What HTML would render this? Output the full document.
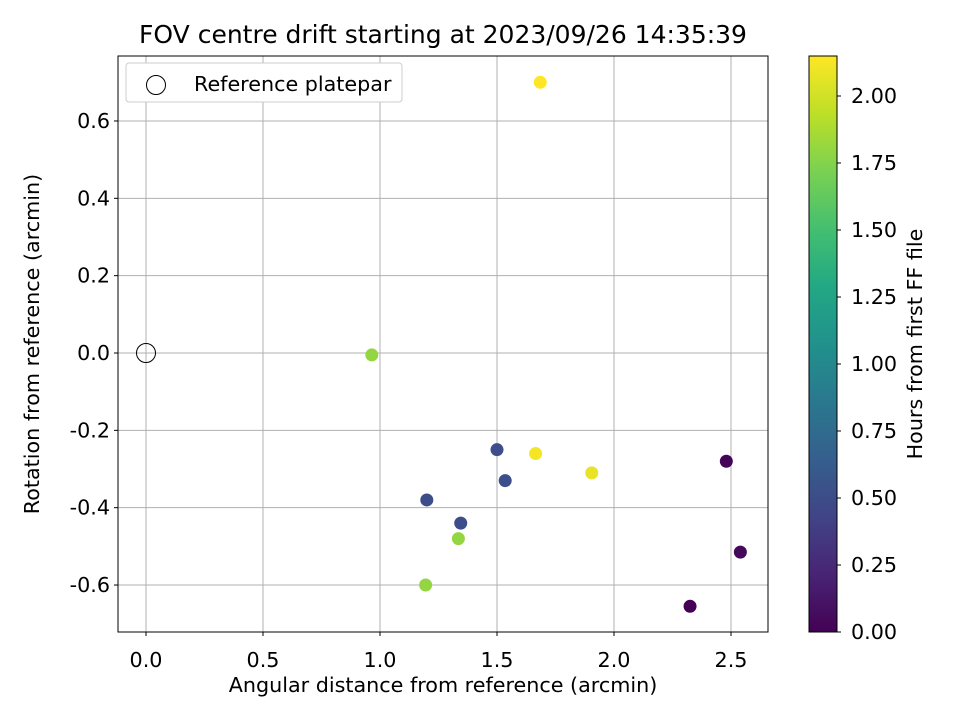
<!DOCTYPE html>
<html><head><meta charset="utf-8"><style>
body{margin:0;background:#fff;}
svg text{font-family:"DejaVu Sans","Liberation Sans",sans-serif;fill:#000;}
</style></head><body>
<svg id="chart" width="960" height="720" xmlns="http://www.w3.org/2000/svg">
<defs>
<linearGradient id="vir" x1="0" y1="1" x2="0" y2="0">
<stop offset="0" stop-color="#440154"/><stop offset="0.1" stop-color="#482475"/><stop offset="0.2" stop-color="#414487"/><stop offset="0.3" stop-color="#355f8d"/><stop offset="0.4" stop-color="#2a788e"/><stop offset="0.5" stop-color="#21918c"/><stop offset="0.6" stop-color="#22a884"/><stop offset="0.7" stop-color="#44bf70"/><stop offset="0.8" stop-color="#7ad151"/><stop offset="0.9" stop-color="#bddf26"/><stop offset="1" stop-color="#fde725"/>
</linearGradient>
</defs>
<g id="grid"></g>
<g id="pts"></g>
<rect x="118" y="56" width="650" height="576" fill="none" stroke="#000" stroke-width="1"/>
<g id="xt"></g>
<g id="yt"></g>
<text x="443" y="43" style="font-size:25px" text-anchor="middle">FOV centre drift starting at 2023/09/26 14:35:39</text>
<text x="443" y="692" style="font-size:20.7px" text-anchor="middle">Angular distance from reference (arcmin)</text>
<text transform="translate(39,344) rotate(-90)" style="font-size:20.7px" text-anchor="middle">Rotation from reference (arcmin)</text>
<g>
<rect x="126" y="63" width="276" height="39" rx="3" fill="#fff" stroke="#ccc"/>
<circle cx="156" cy="85" r="9.5" fill="none" stroke="#000"/>
<text x="194" y="91" style="font-size:20.7px">Reference platepar</text>
</g>
<rect x="809" y="56" width="28" height="576" fill="url(#vir)" stroke="#000"/>
<g id="ct"></g>
<text transform="translate(922,344) rotate(-90)" style="font-size:20.7px" text-anchor="middle">Hours from first FF file</text>
</svg>
<script>
const xs=[0.965,1.685,1.50,1.535,1.20,1.345,1.335,1.195,1.665,1.905,2.48,2.54,2.325];
const ys=[-0.005,0.70,-0.25,-0.33,-0.38,-0.44,-0.48,-0.60,-0.26,-0.31,-0.28,-0.515,-0.655];
const hours=[1.80,2.15,0.52,0.52,0.50,0.50,1.80,1.80,2.12,2.08,0.02,0.05,0.0];
const xTicks=[0,0.5,1.0,1.5,2.0,2.5];
const yTicks=[-0.6,-0.4,-0.2,0,0.2,0.4,0.6];
const cTicks=[0,0.25,0.5,0.75,1.0,1.25,1.5,1.75,2.0];
const NS="http://www.w3.org/2000/svg";
const X=v=>146+v*234, Y=v=>353-v*386.7, C=v=>632-v*268, CMAX=2.149;
const vir=["#440154","#482475","#414487","#355f8d","#2a788e","#21918c","#22a884","#44bf70","#7ad151","#bddf26","#fde725"];
function hx(c){return[1,3,5].map(i=>parseInt(c.substr(i,2),16));}
function col(h){let t=Math.max(0,Math.min(1,h/CMAX))*10,i=Math.min(9,Math.floor(t)),f=t-i,a=hx(vir[i]),b=hx(vir[i+1]);return"rgb("+a.map((v,k)=>Math.round(v+(b[k]-v)*f)).join(",")+")";}
function mk(tag,at,p){const e=document.createElementNS(NS,tag);for(const k in at)e.setAttribute(k,at[k]);p.appendChild(e);return e;}
const g=document.getElementById('grid'),xt=document.getElementById('xt'),yt=document.getElementById('yt'),ct=document.getElementById('ct'),pts=document.getElementById('pts');
xTicks.forEach(v=>{
 const l=mk('line',{x1:X(v),x2:X(v),y1:56,y2:632,stroke:'#b0b0b0','stroke-width':1},g);
 
 
 mk('line',{x1:X(v),x2:X(v),y1:632,y2:636,stroke:'#000'},xt);
 const t=mk('text',{x:X(v),y:667,style:'font-size:20.7px','text-anchor':'middle'},xt);
 t.textContent=v.toFixed(1);
 
 
});
yTicks.forEach(v=>{
 const l=mk('line',{x1:118,x2:768,y1:Y(v),y2:Y(v),stroke:'#b0b0b0','stroke-width':1},g);
 
 
 mk('line',{x1:114,x2:118,y1:Y(v),y2:Y(v),stroke:'#000'},yt);
 const t=mk('text',{x:110,y:Y(v)+7,style:'font-size:20.7px','text-anchor':'end'},yt);
 t.textContent=(Math.abs(v)<1e-9?0:v).toFixed(1);
 
 
});
cTicks.forEach(v=>{
 mk('line',{x1:837,x2:841,y1:C(v),y2:C(v),stroke:'#000'},ct);
 const t=mk('text',{x:851,y:C(v)+7,style:'font-size:20.7px'},ct);
 t.textContent=v.toFixed(2);
 
 
});
xs.forEach((x,i)=>{
 const c=mk('circle',{cx:X(x),cy:Y(ys[i]),r:6.5,fill:col(hours[i])},pts);
 
 
});
const r=mk('circle',{cx:X(0),cy:Y(0),r:9.5,fill:'none',stroke:'#000'},pts);


</script>
</body></html>
